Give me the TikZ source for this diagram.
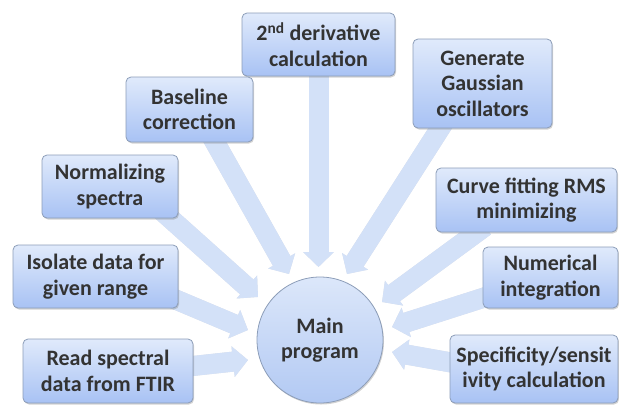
\documentclass[tikz,border=0pt]{standalone}
\usepackage{fontspec}
\setmainfont{Carlito}
\usetikzlibrary{arrows.meta,shadows,calc}
\definecolor{boxtop}{HTML}{E0EAFB}
\definecolor{boxbot}{HTML}{A8C2F4}
\definecolor{boxline}{HTML}{8C9DB8}
\definecolor{txt}{HTML}{333333}
\definecolor{arr}{HTML}{D3E1F8}
\definecolor{arrsh}{HTML}{DDE0E6}
\definecolor{circtop}{HTML}{DCE7FA}
\definecolor{circbot}{HTML}{B2C9F3}
\pgfdeclarelayer{bg}
\pgfsetlayers{bg,main}
\begin{document}
\begin{tikzpicture}[x=1pt,y=-1pt,
  box/.style={draw=boxline, line width=0.8pt, rounded corners=5pt,
    top color=boxtop, bottom color=boxbot,
    drop shadow={shadow xshift=1pt,shadow yshift=-1.5pt,opacity=0.35},
    align=center, font=\fontsize{22}{25.5}\selectfont\bfseries, text=txt, inner sep=1pt},
  hub/.style={circle, draw=boxline, line width=0.8pt,
    top color=circtop, bottom color=circbot,
    drop shadow={shadow xshift=1pt,shadow yshift=-1.5pt,opacity=0.35},
    align=center, font=\fontsize{22}{25.5}\selectfont\bfseries, text=txt, inner sep=0pt},
  bigarrow/.style={line width=20pt, draw=arr, -{Triangle[length=15pt,width=30pt]}},
  arrowshadow/.style={line width=20pt, draw=arrsh, -{Triangle[length=15pt,width=30pt]}, shift={(1.5pt,-2pt)}},
]
\useasboundingbox (0,0) rectangle (619,405);

\node[box, minimum width=153pt, minimum height=63pt] (deriv) at (318.5,44.5) {2\textsuperscript{nd} derivative\\calculation};
\node[box, minimum width=127pt, minimum height=65pt] (base) at (189.5,109.5) {Baseline\\correction};
\node[box, minimum width=136pt, minimum height=63pt] (norm) at (110,186.5) {Normalizing\\spectra};
\node[box, minimum width=165pt, minimum height=63pt] (iso) at (95.5,276.5) {Isolate data for\\given range};
\node[box, minimum width=170pt, minimum height=64pt] (read) at (108,371) {Read spectral\\data from FTIR};
\node[box, minimum width=139pt, minimum height=89pt] (gen) at (482.5,83.5) {Generate\\Gaussian\\oscillators};
\node[box, minimum width=181pt, minimum height=64pt] (curve) at (526.5,200) {Curve fitting RMS\\minimizing};
\node[box, minimum width=135pt, minimum height=61pt] (num) at (550.5,277.5) {Numerical\\integration};
\node[box, minimum width=168pt, minimum height=68pt] (spec) at (534,369) {Specificity/sensit\\ivity calculation};
\node[hub, minimum size=126pt] (main) at (320,340) {Main\\program};

\coordinate (tRead) at (248,360);
\coordinate (tIso) at (248,330);
\coordinate (tNorm) at (258,297);
\coordinate (tBase) at (289,274);
\coordinate (tDeriv) at (318.5,267);
\coordinate (tGen) at (347,274);
\coordinate (tCurve) at (382,302);
\coordinate (tNum) at (392,327);
\coordinate (tSpec) at (392,352);

\newcommand{\bigarr}[2]{%
  \draw[arrowshadow] #1 -- #2;
  \draw[bigarrow] #1 -- #2;}

\begin{pgfonlayer}{bg}
\bigarr{($(read.east)+(-10,-4)$)}{(tRead)}
\bigarr{($(iso.east)+(-10,20)$)}{(tIso)}
\bigarr{($(norm.south east)+(-20.5,-11)$)}{(tNorm)}
\bigarr{($(base.south)+(20.5,-9)$)}{(tBase)}
\bigarr{($(deriv.south)+(0,-10)$)}{(tDeriv)}
\bigarr{($(gen.south)+(-37,-8.5)$)}{(tGen)}
\bigarr{($(curve.south)+(-41.5,-6)$)}{(tCurve)}
\bigarr{($(num.west)+(9.5,17.5)$)}{(tNum)}
\bigarr{($(spec.west)+(10,-5)$)}{(tSpec)}
\end{pgfonlayer}
\end{tikzpicture}
\end{document}
